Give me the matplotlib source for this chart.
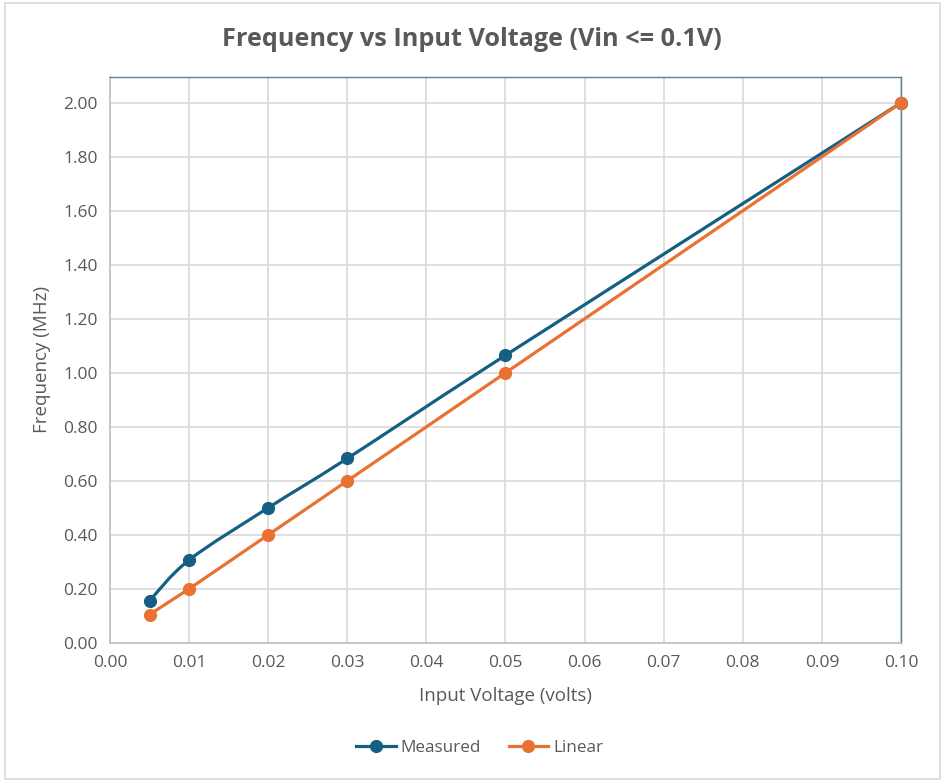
import matplotlib.pyplot as plt
from matplotlib.path import Path
from matplotlib.patches import PathPatch, Rectangle
from matplotlib.lines import Line2D

# data
volts = [0.005, 0.01, 0.02, 0.03, 0.05, 0.10]
measured = [0.156, 0.307, 0.50, 0.683, 1.065, 2.00]
linear = [0.105, 0.20, 0.40, 0.60, 1.00, 2.00]

x_ticks = [0.00, 0.01, 0.02, 0.03, 0.04, 0.05, 0.06, 0.07, 0.08, 0.09, 0.10]
y_ticks = [0.00, 0.20, 0.40, 0.60, 0.80, 1.00, 1.20, 1.40, 1.60, 1.80, 2.00]

blue = '#156082'
orange = '#E97132'
grey_txt = '#595959'
grid_col = '#d9d9d9'

plt.rcParams['font.family'] = ['Open Sans', 'DejaVu Sans']


def smooth_path(xs, ys):
    # excel style smoothed line: cubic bezier through every point
    pts = list(zip(xs, ys))
    verts = [pts[0]]
    codes = [Path.MOVETO]
    n = len(pts)
    for i in range(n - 1):
        p0 = pts[i - 1] if i > 0 else pts[i]
        p1 = pts[i]
        p2 = pts[i + 1]
        p3 = pts[i + 2] if i + 2 < n else pts[i + 1]
        c1 = (p1[0] + (p2[0] - p0[0]) / 6, p1[1] + (p2[1] - p0[1]) / 6)
        c2 = (p2[0] - (p3[0] - p1[0]) / 6, p2[1] - (p3[1] - p1[1]) / 6)
        verts += [c1, c2, p2]
        codes += [Path.CURVE4, Path.CURVE4, Path.CURVE4]
    return Path(verts, codes)


fig = plt.figure(figsize=(9.5, 7.84), dpi=100)
ax = fig.add_axes([0.1158, 0.180, 0.8326, 0.722])

ax.add_patch(PathPatch(smooth_path(volts, measured), facecolor='none',
                       edgecolor=blue, lw=2.3, zorder=3, clip_on=False))
ax.plot(volts, measured, 'o', color=blue, ms=8.5, zorder=4, clip_on=False)
ax.plot(volts, linear, '-o', color=orange, lw=2.3, ms=8.5, zorder=4, clip_on=False)

ax.set_xlim(0, 0.10)
ax.set_ylim(0, 2.096)
ax.set_xticks(x_ticks)
ax.set_xticklabels(['%.2f' % v for v in x_ticks])
ax.set_yticks(y_ticks)
ax.set_yticklabels(['%.2f' % v for v in y_ticks])
ax.tick_params(length=0, labelsize=12.5, colors=grey_txt, pad=9)
ax.grid(True, color=grid_col, lw=1.2)
ax.set_axisbelow(True)

for s in ['left', 'bottom']:
    ax.spines[s].set_color('#bfbfbf')
    ax.spines[s].set_linewidth(1.2)
for s in ['top', 'right']:
    ax.spines[s].set_color('#5a8096')
    ax.spines[s].set_linewidth(1.0)

ax.set_xlabel('Input Voltage (volts)', fontsize=13.5, color=grey_txt, labelpad=11)
ax.set_ylabel('Frequency (MHz)', fontsize=13.5, color=grey_txt, labelpad=9)

fig.text(0.497, 0.950, 'Frequency vs Input Voltage (Vin <= 0.1V)',
         ha='center', va='center', fontsize=18.2, fontweight='bold', color=grey_txt)

handles = [Line2D([], [], color=blue, marker='o', lw=2.3, ms=8.5),
           Line2D([], [], color=orange, marker='o', lw=2.3, ms=8.5)]
fig.legend(handles, ['Measured', 'Linear'], loc='center', bbox_to_anchor=(0.505, 0.046),
           ncol=2, frameon=False, fontsize=12.3, labelcolor=grey_txt,
           handlelength=2.3, handletextpad=0.3, columnspacing=1.6)

# chart border
fig.patches.append(Rectangle((0.005, 0.006), 0.984, 0.99, transform=fig.transFigure,
                             fill=False, edgecolor='#d9d9d9', lw=1.2))

fig.savefig('out.png', dpi=100)
